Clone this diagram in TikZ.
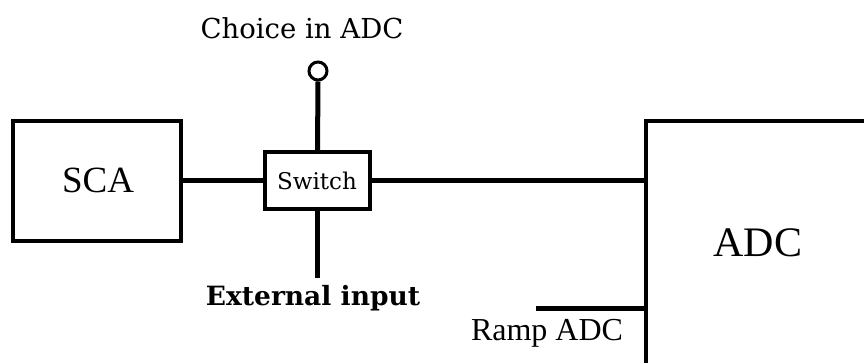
\documentclass[tikz,border=0pt]{standalone}
\usepackage{fontspec}
\setmainfont{Liberation Serif}
\newfontfamily\slab{DejaVu Serif}
\begin{document}
\begin{tikzpicture}[x=1pt,y=-1pt,
  box/.style={draw=black,line width=3.5pt,fill=white,inner sep=0pt},
  wire/.style={line width=5pt},
  lbl/.style={inner sep=0pt,text=black}]
\clip (0,0) rectangle (864,363);
\fill[white] (0,0) rectangle (864,363);
% boxes
\node[box,minimum width=168pt,minimum height=120pt] (sca) at (97,181) {};
\node[lbl,font=\fontsize{37}{40}\selectfont] (scat) at (98,180) {SCA};
\node[box,minimum width=105pt,minimum height=57pt] (sw) at (317.5,180.5) {};
\node[lbl,font=\slab\fontsize{23}{25}\selectfont] (swt) at (317,181) {Switch};
\node[box,anchor=north west,minimum width=400pt,minimum height=400pt] (adc) at (644,119.5) {};
\node[lbl,font=\fontsize{42}{46}\selectfont] (adct) at (758,243) {ADC};
% circle terminal
\node[draw=black,line width=3pt,circle,minimum size=18pt,inner sep=0pt] (term) at (318,71) {};
\coordinate (ext) at (317.5,278);
\coordinate (ramp) at (536,308);
% wires
\draw[wire] (sca.east |- 0,181) -- (sw.west |- 0,181);
\draw[wire] (sw.east |- 0,181) -- (adc.west |- 0,181);
\draw[wire] (sw.north) -- (term.south);
\draw[wire] (sw.south) -- (ext);
\draw[wire] (ramp) -- (adc.west |- ramp);
% labels
\node[lbl,font=\slab\fontsize{27.5}{30}\selectfont] (choice) at (302,28) {Choice in ADC};
\node[lbl,font=\slab\bfseries\fontsize{26.5}{29}\selectfont] (extt) at (313,298) {External input};
\node[lbl,font=\fontsize{32}{34}\selectfont] (rampt) at (547,333) {Ramp ADC};
\end{tikzpicture}
\end{document}
